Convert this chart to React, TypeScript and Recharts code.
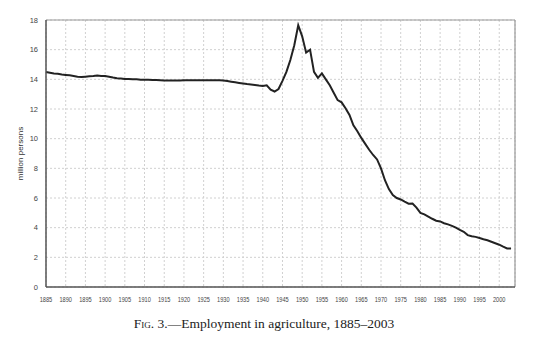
import { CartesianGrid, Line, LineChart, ReferenceLine, XAxis, YAxis } from "recharts";

const years = [
  1885, 1886, 1887, 1888, 1889, 1890, 1891, 1892, 1893, 1894, 1895, 1896, 1897, 1898, 1899,
  1900, 1901, 1902, 1903, 1904, 1905, 1906, 1907, 1908, 1909, 1910, 1911, 1912, 1913, 1914,
  1915, 1916, 1917, 1918, 1919, 1920, 1921, 1922, 1923, 1924, 1925, 1926, 1927, 1928, 1929,
  1930, 1931, 1932, 1933, 1934, 1935, 1936, 1937, 1938, 1939, 1940, 1941, 1942, 1943, 1944,
  1945, 1946, 1947, 1948, 1949, 1950, 1951, 1952, 1953, 1954, 1955, 1956, 1957, 1958, 1959,
  1960, 1961, 1962, 1963, 1964, 1965, 1966, 1967, 1968, 1969, 1970, 1971, 1972, 1973, 1974,
  1975, 1976, 1977, 1978, 1979, 1980, 1981, 1982, 1983, 1984, 1985, 1986, 1987, 1988, 1989,
  1990, 1991, 1992, 1993, 1994, 1995, 1996, 1997, 1998, 1999, 2000, 2001, 2002, 2003,
];

// million persons
const employment = [
  14.5, 14.45, 14.4, 14.38, 14.33, 14.3, 14.27, 14.22, 14.17, 14.15, 14.18, 14.2, 14.22, 14.25, 14.23,
  14.22, 14.18, 14.12, 14.08, 14.05, 14.02, 14.02, 14.0, 14.0, 13.98, 13.98, 13.97, 13.96, 13.95, 13.94,
  13.92, 13.92, 13.92, 13.92, 13.92, 13.93, 13.93, 13.93, 13.93, 13.93, 13.93, 13.93, 13.93, 13.93, 13.93,
  13.92, 13.88, 13.84, 13.8, 13.76, 13.72, 13.68, 13.65, 13.62, 13.58, 13.55, 13.6, 13.3, 13.18, 13.35,
  13.9, 14.5, 15.3, 16.3, 17.65, 16.9, 15.8, 16.0, 14.5, 14.1, 14.4, 14.0, 13.6, 13.1, 12.6,
  12.45, 12.05, 11.6, 10.9, 10.5, 10.05, 9.65, 9.25, 8.9, 8.6, 8.0, 7.2, 6.6, 6.2, 6.0,
  5.9, 5.75, 5.62, 5.63, 5.35, 5.0, 4.9, 4.75, 4.6, 4.47, 4.42, 4.3, 4.22, 4.12, 4.0,
  3.85, 3.72, 3.5, 3.42, 3.38, 3.3, 3.22, 3.15, 3.05, 2.95, 2.85, 2.72, 2.6, 2.6,
];

const xTicks = [
  1885, 1890, 1895, 1900, 1905, 1910, 1915, 1920, 1925, 1930, 1935, 1940, 1945, 1950,
  1955, 1960, 1965, 1970, 1975, 1980, 1985, 1990, 1995, 2000,
];
const yTicks = [0, 2, 4, 6, 8, 10, 12, 14, 16, 18];

const data = years.map((year, i) => ({ year, value: employment[i] }));

function YearTick(props: any) {
  const { x, y, payload } = props;
  return (
    <text
      x={x}
      y={y + 7}
      textAnchor="middle"
      fontSize={7.5}
      fill="#444"
      fontFamily="Arial, 'Liberation Sans', sans-serif"
      textLength={12.5}
      lengthAdjust="spacingAndGlyphs"
    >
      {payload.value}
    </text>
  );
}

export default function App() {
  return (
    <div style={{ position: "absolute", left: 0, top: 0, width: 535, height: 352, background: "#fff" }}>
      <LineChart
        width={535}
        height={310}
        data={data}
        margin={{ top: 20, right: 20, bottom: 3, left: 0 }}
        style={{ fontFamily: "Arial, 'Liberation Sans', sans-serif" }}
      >
        <CartesianGrid stroke="#d0d0d0" strokeDasharray="2 2" />
        <XAxis
          dataKey="year"
          type="number"
          domain={[1885, 2004]}
          ticks={xTicks}
          interval={0}
          tickLine={false}
          stroke="#555"
          strokeWidth={1.5}
          height={20}
          tick={<YearTick />}
        />
        <YAxis
          type="number"
          domain={[0, 18]}
          ticks={yTicks}
          interval={0}
          tickLine={false}
          stroke="#555"
          strokeWidth={1.5}
          width={46}
          tick={{ fontSize: 7.5, fill: "#444" }}
          label={{
            value: "million persons",
            angle: -90,
            position: "insideLeft",
            offset: 20,
            style: { fontSize: 8, fill: "#333", textAnchor: "middle" },
          }}
        />
        <ReferenceLine y={18} stroke="#999" strokeWidth={1.2} />
        <ReferenceLine x={2004} stroke="#999" strokeWidth={1.2} />
        <Line
          dataKey="value"
          type="linear"
          stroke="#222"
          strokeWidth={2}
          dot={false}
          isAnimationActive={false}
        />
      </LineChart>
      <div
        style={{
          position: "absolute",
          left: 0,
          top: 316,
          width: 528,
          textAlign: "center",
          fontFamily: "'Liberation Serif', 'DejaVu Serif', serif",
          fontSize: 13.5,
          color: "#222",
        }}
      >
        <span style={{ fontVariant: "small-caps" }}>Fig.</span> 3.—Employment in agriculture, 1885–2003
      </div>
    </div>
  );
}
